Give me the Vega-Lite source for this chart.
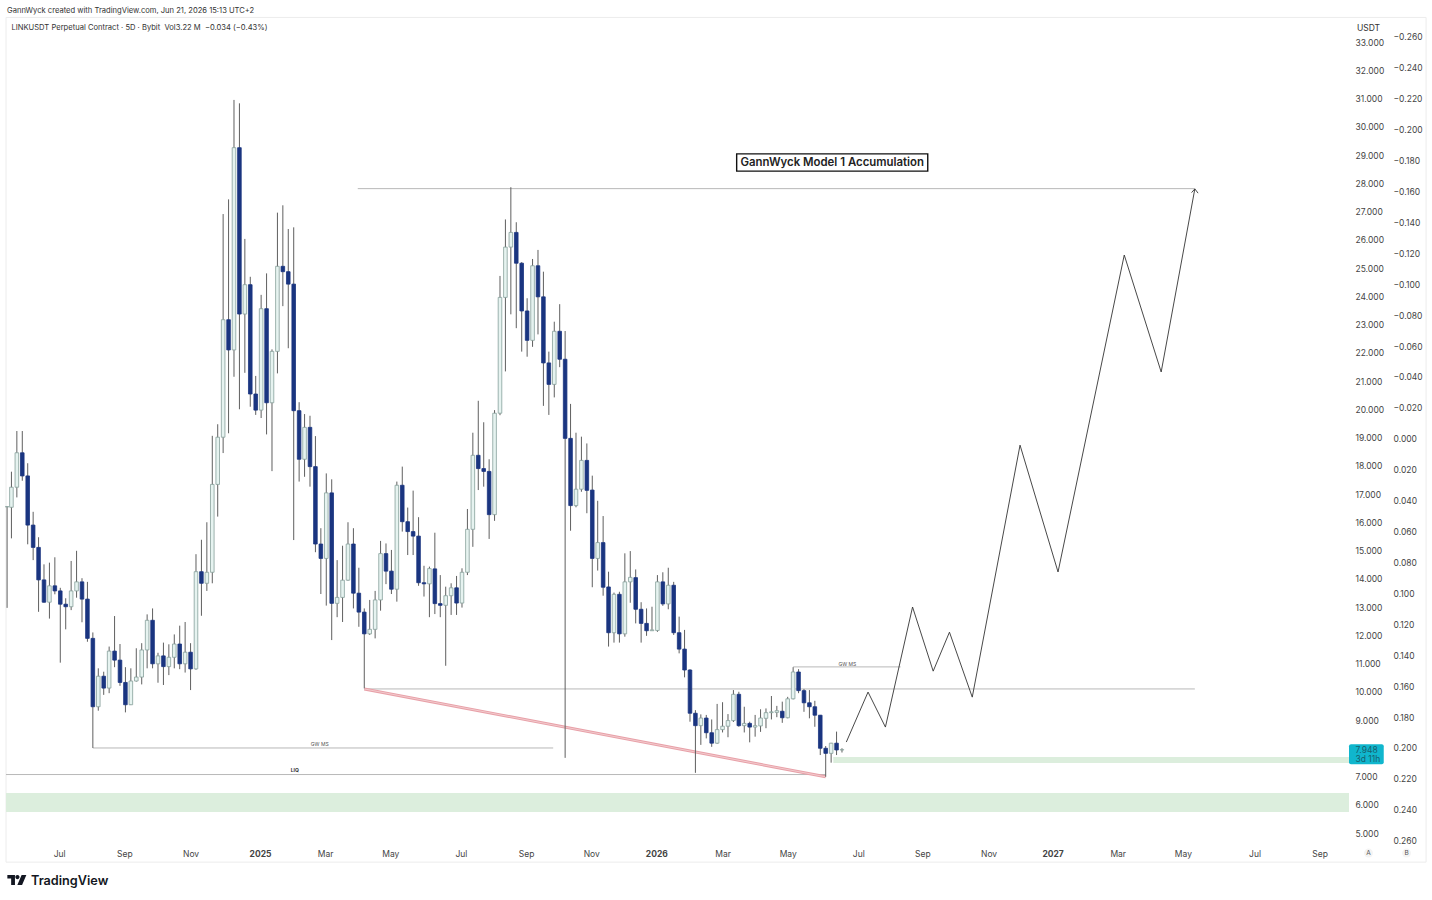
{"$schema":"https://vega.github.io/schema/vega-lite/v6.json","width":1343,"height":844,"autosize":{"type":"none"},"padding":{"left":6,"top":18,"right":83,"bottom":38},"background":"white","config":{"font":"Inter","view":{"stroke":null},"text":{"font":"Inter"},"axis":{"labelOverlap":false}},
"datasets":{"candles":[
{"d":"2024-05-13","o":16.55,"h":16.55,"l":12.97,"c":16.55},
{"d":"2024-05-17","o":16.53,"h":17.79,"l":15.43,"c":17.24},
{"d":"2024-05-22","o":17.24,"h":19.23,"l":16.88,"c":18.46},
{"d":"2024-05-27","o":18.46,"h":19.23,"l":17.47,"c":17.64},
{"d":"2024-06-01","o":17.64,"h":18.09,"l":15.22,"c":15.9},
{"d":"2024-06-06","o":15.9,"h":16.37,"l":14.66,"c":15.11},
{"d":"2024-06-11","o":15.11,"h":15.47,"l":12.83,"c":13.96},
{"d":"2024-06-16","o":13.96,"h":14.51,"l":13.15,"c":13.17},
{"d":"2024-06-21","o":13.17,"h":14.57,"l":12.59,"c":13.75},
{"d":"2024-06-26","o":13.75,"h":14.76,"l":13.45,"c":13.57},
{"d":"2024-07-01","o":13.57,"h":13.68,"l":11.03,"c":13.1},
{"d":"2024-07-06","o":13.1,"h":13.31,"l":12.21,"c":13.01},
{"d":"2024-07-11","o":13.01,"h":14.63,"l":12.89,"c":13.57},
{"d":"2024-07-16","o":13.57,"h":14.99,"l":13.33,"c":13.89},
{"d":"2024-07-21","o":13.89,"h":14.02,"l":12.46,"c":13.28},
{"d":"2024-07-26","o":13.28,"h":13.89,"l":11.77,"c":11.89},
{"d":"2024-07-31","o":11.89,"h":12.1,"l":8.01,"c":9.47},
{"d":"2024-08-05","o":9.47,"h":10.83,"l":9.33,"c":10.55},
{"d":"2024-08-10","o":10.55,"h":10.71,"l":9.89,"c":10.13},
{"d":"2024-08-15","o":10.13,"h":11.6,"l":9.95,"c":11.44},
{"d":"2024-08-20","o":11.44,"h":12.68,"l":10.87,"c":11.12},
{"d":"2024-08-25","o":11.12,"h":11.69,"l":10.21,"c":10.33},
{"d":"2024-08-30","o":10.33,"h":10.87,"l":9.27,"c":9.54},
{"d":"2024-09-04","o":9.54,"h":10.83,"l":9.53,"c":10.38},
{"d":"2024-09-09","o":10.38,"h":11.54,"l":10.36,"c":10.52},
{"d":"2024-09-14","o":10.52,"h":11.72,"l":10.26,"c":11.48},
{"d":"2024-09-19","o":11.48,"h":12.74,"l":10.83,"c":12.53},
{"d":"2024-09-24","o":12.53,"h":12.95,"l":10.83,"c":10.99},
{"d":"2024-09-29","o":10.99,"h":11.38,"l":10.32,"c":11.27},
{"d":"2024-10-04","o":11.27,"h":11.74,"l":10.24,"c":10.89},
{"d":"2024-10-09","o":10.89,"h":11.68,"l":10.59,"c":11.22},
{"d":"2024-10-14","o":11.22,"h":12.03,"l":10.83,"c":11.69},
{"d":"2024-10-19","o":11.69,"h":12.34,"l":10.8,"c":10.99},
{"d":"2024-10-24","o":10.99,"h":12.47,"l":10.68,"c":11.4},
{"d":"2024-10-29","o":11.4,"h":11.72,"l":10.06,"c":10.81},
{"d":"2024-11-03","o":10.81,"h":14.87,"l":10.78,"c":14.25},
{"d":"2024-11-08","o":14.25,"h":15.38,"l":12.69,"c":13.84},
{"d":"2024-11-13","o":13.84,"h":16.0,"l":13.57,"c":14.23},
{"d":"2024-11-18","o":14.23,"h":19.06,"l":13.84,"c":17.34},
{"d":"2024-11-23","o":17.34,"h":19.47,"l":16.2,"c":19.01},
{"d":"2024-11-28","o":19.01,"h":26.91,"l":18.45,"c":23.17},
{"d":"2024-12-03","o":23.17,"h":27.43,"l":19.15,"c":22.1},
{"d":"2024-12-08","o":22.1,"h":30.95,"l":21.15,"c":29.26},
{"d":"2024-12-13","o":29.26,"h":30.83,"l":20.0,"c":23.37},
{"d":"2024-12-18","o":23.37,"h":26.03,"l":21.29,"c":24.41},
{"d":"2024-12-23","o":24.41,"h":24.69,"l":20.09,"c":20.54},
{"d":"2024-12-28","o":20.54,"h":21.18,"l":19.8,"c":19.97},
{"d":"2025-01-02","o":19.97,"h":24.05,"l":19.69,"c":23.56},
{"d":"2025-01-07","o":23.56,"h":24.81,"l":19.11,"c":20.23},
{"d":"2025-01-12","o":20.23,"h":22.12,"l":17.81,"c":22.05},
{"d":"2025-01-17","o":22.05,"h":26.96,"l":21.27,"c":25.06},
{"d":"2025-01-22","o":25.06,"h":27.22,"l":23.65,"c":24.87},
{"d":"2025-01-27","o":24.87,"h":26.38,"l":22.16,"c":24.43},
{"d":"2025-02-01","o":24.43,"h":26.44,"l":15.37,"c":19.95},
{"d":"2025-02-06","o":19.95,"h":20.25,"l":17.44,"c":18.23},
{"d":"2025-02-11","o":18.23,"h":19.83,"l":17.61,"c":19.36},
{"d":"2025-02-16","o":19.36,"h":19.77,"l":17.26,"c":17.97},
{"d":"2025-02-21","o":17.97,"h":19.05,"l":14.94,"c":15.23},
{"d":"2025-02-26","o":15.23,"h":15.79,"l":13.46,"c":14.72},
{"d":"2025-03-03","o":14.72,"h":17.73,"l":13.05,"c":17.04},
{"d":"2025-03-08","o":17.04,"h":17.52,"l":11.83,"c":13.13},
{"d":"2025-03-13","o":13.13,"h":14.66,"l":12.64,"c":13.34},
{"d":"2025-03-18","o":13.34,"h":15.17,"l":12.47,"c":13.95},
{"d":"2025-03-23","o":13.95,"h":16.0,"l":13.93,"c":15.23},
{"d":"2025-03-28","o":15.23,"h":15.79,"l":12.95,"c":13.49},
{"d":"2025-04-02","o":13.49,"h":14.39,"l":12.3,"c":12.82},
{"d":"2025-04-07","o":12.82,"h":12.95,"l":10.12,"c":12.05},
{"d":"2025-04-12","o":12.05,"h":13.25,"l":12.01,"c":12.21},
{"d":"2025-04-17","o":12.21,"h":13.57,"l":11.89,"c":13.25},
{"d":"2025-04-22","o":13.25,"h":15.34,"l":12.87,"c":14.89},
{"d":"2025-04-27","o":14.89,"h":15.25,"l":13.81,"c":14.27},
{"d":"2025-05-02","o":14.27,"h":15.02,"l":13.46,"c":13.63},
{"d":"2025-05-07","o":13.63,"h":17.44,"l":13.19,"c":17.31},
{"d":"2025-05-12","o":17.31,"h":17.97,"l":15.67,"c":16.02},
{"d":"2025-05-17","o":16.02,"h":16.52,"l":14.84,"c":15.67},
{"d":"2025-05-22","o":15.67,"h":17.12,"l":14.84,"c":15.51},
{"d":"2025-05-27","o":15.51,"h":16.18,"l":13.75,"c":13.86},
{"d":"2025-06-01","o":13.86,"h":14.46,"l":13.37,"c":13.82},
{"d":"2025-06-06","o":13.82,"h":14.43,"l":12.64,"c":14.36},
{"d":"2025-06-11","o":14.35,"h":15.63,"l":12.75,"c":13.12},
{"d":"2025-06-16","o":13.12,"h":14.13,"l":12.64,"c":13.06},
{"d":"2025-06-21","o":13.06,"h":13.72,"l":10.92,"c":13.4},
{"d":"2025-06-26","o":13.4,"h":13.84,"l":12.72,"c":13.68},
{"d":"2025-07-01","o":13.68,"h":14.1,"l":12.72,"c":13.14},
{"d":"2025-07-06","o":13.14,"h":14.37,"l":12.98,"c":14.23},
{"d":"2025-07-11","o":14.23,"h":16.47,"l":14.13,"c":15.75},
{"d":"2025-07-16","o":15.75,"h":19.17,"l":15.13,"c":18.37},
{"d":"2025-07-21","o":18.37,"h":20.3,"l":17.14,"c":17.9},
{"d":"2025-07-26","o":17.9,"h":19.54,"l":17.26,"c":17.8},
{"d":"2025-07-31","o":17.8,"h":18.23,"l":15.41,"c":16.27},
{"d":"2025-08-05","o":16.27,"h":19.97,"l":16.05,"c":19.86},
{"d":"2025-08-10","o":19.86,"h":24.72,"l":19.79,"c":23.96},
{"d":"2025-08-15","o":23.96,"h":26.72,"l":21.34,"c":25.74},
{"d":"2025-08-20","o":25.74,"h":27.86,"l":23.36,"c":26.26},
{"d":"2025-08-25","o":26.26,"h":26.62,"l":22.87,"c":25.17},
{"d":"2025-08-30","o":25.17,"h":25.21,"l":22.04,"c":23.48},
{"d":"2025-09-04","o":23.48,"h":23.93,"l":21.86,"c":22.44},
{"d":"2025-09-09","o":22.44,"h":25.32,"l":22.21,"c":25.08},
{"d":"2025-09-14","o":25.08,"h":25.64,"l":22.65,"c":23.98},
{"d":"2025-09-19","o":23.98,"h":24.87,"l":20.12,"c":21.64},
{"d":"2025-09-24","o":21.64,"h":22.04,"l":19.8,"c":20.88},
{"d":"2025-09-29","o":20.88,"h":23.1,"l":20.42,"c":22.76},
{"d":"2025-10-04","o":22.76,"h":23.72,"l":21.49,"c":21.77},
{"d":"2025-10-09","o":21.77,"h":22.77,"l":7.66,"c":18.97},
{"d":"2025-10-14","o":18.97,"h":20.19,"l":15.7,"c":16.59},
{"d":"2025-10-19","o":16.59,"h":19.17,"l":16.53,"c":17.17},
{"d":"2025-10-24","o":17.17,"h":19.03,"l":17.08,"c":18.19},
{"d":"2025-10-29","o":18.19,"h":18.79,"l":16.32,"c":17.13},
{"d":"2025-11-03","o":17.14,"h":17.65,"l":13.7,"c":14.72},
{"d":"2025-11-08","o":14.72,"h":16.76,"l":14.29,"c":15.28},
{"d":"2025-11-13","o":15.28,"h":16.22,"l":13.4,"c":13.7},
{"d":"2025-11-18","o":13.71,"h":14.25,"l":11.6,"c":12.09},
{"d":"2025-11-23","o":12.09,"h":13.51,"l":11.74,"c":13.45},
{"d":"2025-11-28","o":13.45,"h":13.54,"l":11.74,"c":12.05},
{"d":"2025-12-03","o":12.05,"h":14.9,"l":11.95,"c":13.89},
{"d":"2025-12-08","o":13.89,"h":14.98,"l":13.15,"c":14.05},
{"d":"2025-12-13","o":14.04,"h":14.33,"l":12.42,"c":12.92},
{"d":"2025-12-18","o":12.92,"h":13.17,"l":11.74,"c":12.42},
{"d":"2025-12-23","o":12.42,"h":12.95,"l":11.98,"c":12.16},
{"d":"2025-12-28","o":12.16,"h":13.01,"l":12.16,"c":12.19},
{"d":"2026-01-02","o":12.17,"h":14.13,"l":12.12,"c":13.89},
{"d":"2026-01-07","o":13.89,"h":14.23,"l":13.04,"c":13.11},
{"d":"2026-01-12","o":13.11,"h":14.39,"l":12.92,"c":13.77},
{"d":"2026-01-17","o":13.77,"h":13.89,"l":12.01,"c":12.09},
{"d":"2026-01-22","o":12.09,"h":12.66,"l":11.36,"c":11.51},
{"d":"2026-01-27","o":11.51,"h":12.19,"l":10.51,"c":10.77},
{"d":"2026-02-01","o":10.77,"h":10.8,"l":8.94,"c":9.24},
{"d":"2026-02-06","o":9.24,"h":9.35,"l":7.13,"c":8.8},
{"d":"2026-02-11","o":8.8,"h":9.2,"l":8.12,"c":9.07},
{"d":"2026-02-16","o":9.07,"h":9.18,"l":8.35,"c":8.55},
{"d":"2026-02-21","o":8.55,"h":9.02,"l":8.05,"c":8.18},
{"d":"2026-02-26","o":8.18,"h":9.57,"l":8.16,"c":8.66},
{"d":"2026-03-03","o":8.66,"h":9.63,"l":8.56,"c":8.78},
{"d":"2026-03-08","o":8.78,"h":9.21,"l":8.39,"c":8.98},
{"d":"2026-03-13","o":8.98,"h":10.06,"l":8.93,"c":9.91},
{"d":"2026-03-18","o":9.91,"h":10.0,"l":8.76,"c":8.8},
{"d":"2026-03-23","o":8.8,"h":9.47,"l":8.56,"c":8.88},
{"d":"2026-03-28","o":8.88,"h":8.94,"l":8.21,"c":8.75},
{"d":"2026-04-02","o":8.75,"h":9.18,"l":8.41,"c":8.8},
{"d":"2026-04-07","o":8.79,"h":9.38,"l":8.58,"c":9.07},
{"d":"2026-04-12","o":9.06,"h":9.41,"l":8.71,"c":9.26},
{"d":"2026-04-17","o":9.26,"h":9.85,"l":9.02,"c":9.29},
{"d":"2026-04-22","o":9.27,"h":9.5,"l":9.1,"c":9.33},
{"d":"2026-04-27","o":9.31,"h":9.65,"l":8.9,"c":9.08},
{"d":"2026-05-02","o":9.08,"h":9.82,"l":9.06,"c":9.75},
{"d":"2026-05-07","o":9.75,"h":10.87,"l":9.73,"c":10.7},
{"d":"2026-05-12","o":10.7,"h":10.8,"l":9.95,"c":10.04},
{"d":"2026-05-17","o":10.04,"h":10.1,"l":9.29,"c":9.61},
{"d":"2026-05-22","o":9.61,"h":10.06,"l":9.06,"c":9.47},
{"d":"2026-05-27","o":9.47,"h":9.68,"l":8.76,"c":9.17},
{"d":"2026-06-01","o":9.17,"h":9.18,"l":7.76,"c":8.0},
{"d":"2026-06-06","o":8.0,"h":8.08,"l":6.99,"c":7.82},
{"d":"2026-06-11","o":7.82,"h":8.19,"l":7.49,"c":8.18},
{"d":"2026-06-16","o":8.18,"h":8.59,"l":7.76,"c":7.94},
{"d":"2026-06-21","o":7.94,"h":8.0,"l":7.85,"c":7.95}
]},
"layer":[
{"layer":[
{"data":{"values":[{"d":"2024-05-12","d2":"2027-12-11","p":33.87,"p2":3.97}],"format":{"parse":{"d":"date","d2":"date"}}},"mark":{"type":"rect","fillOpacity":0,"fill":"white","stroke":"#ececec","strokeWidth":1},"encoding":{"x":{"field":"d","type":"temporal","title":null,"scale":{"type":"utc","padding":0,"domain":[{"year":2024,"month":5,"date":12,"utc":true},{"year":2027,"month":10,"date":1,"utc":true}]},"axis":{"orient":"bottom","title":null,"domain":false,"ticks":false,"grid":false,"offset":-9,"labelPadding":0,"labelBaseline":"middle","labelFontSize":8.5,"labelColor":"#444444","labelFontWeight":{"condition":{"test":"utcmonth(datum.value+604800000)==0","value":"bold"},"value":"normal"},"labelExpr":"utcmonth(datum.value+604800000)==0 ? utcFormat(datum.value+604800000,'%Y') : utcFormat(datum.value+604800000,'%b')","values":[{"year":2024,"month":6,"date":30,"utc":true},{"year":2024,"month":8,"date":29,"utc":true},{"year":2024,"month":10,"date":29,"utc":true},{"year":2025,"month":1,"date":1,"utc":true},{"year":2025,"month":3,"date":2,"utc":true},{"year":2025,"month":5,"date":1,"utc":true},{"year":2025,"month":7,"date":5,"utc":true},{"year":2025,"month":9,"date":3,"utc":true},{"year":2025,"month":11,"date":2,"utc":true},{"year":2026,"month":1,"date":1,"utc":true},{"year":2026,"month":3,"date":3,"utc":true},{"year":2026,"month":5,"date":2,"utc":true},{"year":2026,"month":7,"date":6,"utc":true},{"year":2026,"month":9,"date":3,"utc":true},{"year":2026,"month":11,"date":3,"utc":true},{"year":2027,"month":1,"date":1,"utc":true},{"year":2027,"month":3,"date":2,"utc":true},{"year":2027,"month":5,"date":1,"utc":true},{"year":2027,"month":7,"date":6,"utc":true},{"year":2027,"month":9,"date":4,"utc":true}]}},"x2":{"field":"d2"},"y":{"field":"p","type":"quantitative","axis":null,"scale":{"domain":[3.974,33.85],"nice":false,"zero":false}},"y2":{"field":"p2"}}},
{"data":{"values":[{"d":"2024-05-12","d2":"2027-10-01","p":6.42,"p2":5.74},{"d":"2026-06-13","d2":"2027-10-01","p":7.69,"p2":7.48}],"format":{"parse":{"d":"date","d2":"date"}}},"mark":{"type":"rect","fill":"#dceedd"},"encoding":{"x":{"field":"d","type":"temporal","title":null},"x2":{"field":"d2"},"y":{"field":"p","type":"quantitative","axis":null},"y2":{"field":"p2"}}},
{"data":{"values":[{"d":"2025-04-01","d2":"2027-05-12","p":27.81},{"d":"2025-04-07","d2":"2027-05-12","p":10.1},{"d":"2024-07-31","d2":"2025-09-28","p":8.01},{"d":"2024-05-12","d2":"2026-06-06","p":7.07},{"d":"2026-05-07","d2":"2026-08-14","p":10.88}],"format":{"parse":{"d":"date","d2":"date"}}},"mark":{"type":"rule","color":"#b8b8b8","strokeWidth":1},"encoding":{"x":{"field":"d","type":"temporal","title":null},"x2":{"field":"d2"},"y":{"field":"p","type":"quantitative","axis":null}}},
{"data":{"values":[{"d":"2025-04-07","p":10.1},{"d":"2026-06-06","p":6.99}],"format":{"parse":{"d":"date"}}},"mark":{"type":"line","color":"#e8a0a8","strokeWidth":3},"encoding":{"x":{"field":"d","type":"temporal","title":null},"y":{"field":"p","type":"quantitative","axis":null}}},
{"data":{"values":[{"d":"2025-04-07","p":10.1},{"d":"2026-06-06","p":6.99}],"format":{"parse":{"d":"date"}}},"mark":{"type":"line","color":"#f7dcdc","strokeWidth":0.7},"encoding":{"x":{"field":"d","type":"temporal","title":null},"y":{"field":"p","type":"quantitative","axis":null}}},
{"data":{"name":"candles","format":{"parse":{"d":"date"}}},"mark":{"type":"rule","color":"#5f5f5f","strokeWidth":1},"encoding":{"x":{"field":"d","type":"temporal","title":null},"y":{"field":"h","type":"quantitative","axis":null},"y2":{"field":"l"}}},
{"data":{"name":"candles","format":{"parse":{"d":"date"}}},"mark":{"type":"bar","size":3.6,"strokeWidth":0.8},"encoding":{"x":{"field":"d","type":"temporal","title":null},"y":{"field":"o","type":"quantitative","axis":null},"y2":{"field":"c"},"fill":{"condition":{"test":"datum.c>=datum.o","value":"#e6f3f0"},"value":"#1a3580"},"stroke":{"condition":{"test":"datum.c>=datum.o","value":"#86a09a"},"value":"#1a3580"}}},
{"data":{"values":[{"d":"2026-06-25","p":8.22},{"d":"2026-07-15","p":9.99},{"d":"2026-07-31","p":8.75},{"d":"2026-08-25","p":13.0},{"d":"2026-09-13","p":10.73},{"d":"2026-09-28","p":12.11},{"d":"2026-10-19","p":9.81},{"d":"2026-12-02","p":18.73},{"d":"2027-01-06","p":14.24},{"d":"2027-03-08","p":25.46},{"d":"2027-04-11","p":21.32},{"d":"2027-05-12","p":27.8}],"format":{"parse":{"d":"date"}}},"mark":{"type":"line","color":"#333333","strokeWidth":0.9},"encoding":{"x":{"field":"d","type":"temporal","title":null},"y":{"field":"p","type":"quantitative","axis":null}}},
{"data":{"values":[{"d":"2027-05-09","p":27.67},{"d":"2027-05-12","p":27.8},{"d":"2027-05-15","p":27.65}],"format":{"parse":{"d":"date"}}},"mark":{"type":"line","color":"#333333","strokeWidth":0.9},"encoding":{"x":{"field":"d","type":"temporal","title":null},"y":{"field":"p","type":"quantitative","axis":null}}},
{"data":{"values":[{"d":"2026-03-16","d2":"2026-09-08","p":29.04,"p2":28.43}],"format":{"parse":{"d":"date","d2":"date"}}},"mark":{"type":"rect","fill":"white","stroke":"#111111","strokeWidth":1.4},"encoding":{"x":{"field":"d","type":"temporal","title":null},"x2":{"field":"d2"},"y":{"field":"p","type":"quantitative","axis":null},"y2":{"field":"p2"}}},
{"data":{"values":[{"d":"2026-06-12","p":28.7,"t":"GannWyck Model 1 Accumulation"}],"format":{"parse":{"d":"date"}}},"mark":{"type":"text","fontSize":11.4,"fontWeight":600,"color":"#222222","align":"center","baseline":"middle"},"encoding":{"x":{"field":"d","type":"temporal","title":null},"y":{"field":"p","type":"quantitative","axis":null},"text":{"field":"t"}}},
{"data":{"values":[{"d":"2025-02-25","p":8.15,"t":"GW MS"},{"d":"2026-06-26","p":11.0,"t":"GW MS"}],"format":{"parse":{"d":"date"}}},"mark":{"type":"text","fontSize":5,"color":"#555555","align":"center","baseline":"middle"},"encoding":{"x":{"field":"d","type":"temporal","title":null},"y":{"field":"p","type":"quantitative","axis":null},"text":{"field":"t"}}},
{"data":{"values":[{"d":"2025-02-02","p":7.23,"t":"LIQ"}],"format":{"parse":{"d":"date"}}},"mark":{"type":"text","fontSize":5,"fontWeight":"bold","color":"#333333","align":"center","baseline":"middle"},"encoding":{"x":{"field":"d","type":"temporal","title":null},"y":{"field":"p","type":"quantitative","axis":null},"text":{"field":"t"}}},
{"data":{"values":[{"d":"2024-05-13","p":34.1,"t":"GannWyck created with TradingView.com, Jun 21, 2026 15:13 UTC+2"},{"d":"2024-05-17","p":33.5,"t":"LINKUSDT Perpetual Contract · 5D · Bybit \u00a0Vol3.22 M \u00a0−0.034 (−0.43%)"}],"format":{"parse":{"d":"date"}}},"mark":{"type":"text","fontSize":7.6,"color":"#333333","align":"left","baseline":"middle"},"encoding":{"x":{"field":"d","type":"temporal","title":null},"y":{"field":"p","type":"quantitative","axis":null},"text":{"field":"t"}}},
{"data":{"values":[{"d":"2027-10-01","d2":"2027-11-02","p":8.14,"p2":7.43}],"format":{"parse":{"d":"date","d2":"date"}}},"mark":{"type":"rect","fill":"#10b6cd","cornerRadius":2},"encoding":{"x":{"field":"d","type":"temporal","title":null},"x2":{"field":"d2"},"y":{"field":"p","type":"quantitative","axis":null},"y2":{"field":"p2"}}},
{"data":{"values":[{"d":"2027-10-07","p":7.94,"t":"7.948"},{"d":"2027-10-07","p":7.62,"t":"3d 11h"}],"format":{"parse":{"d":"date"}}},"mark":{"type":"text","fontSize":8.5,"color":"#17606e","align":"left","baseline":"middle"},"encoding":{"x":{"field":"d","type":"temporal","title":null},"y":{"field":"p","type":"quantitative","axis":null},"text":{"field":"t"}}},
{"data":{"values":[{"d":"2027-10-19","p":33.5,"t":"USDT"}],"format":{"parse":{"d":"date"}}},"mark":{"type":"text","fontSize":8.5,"color":"#333333","align":"center","baseline":"middle"},"encoding":{"x":{"field":"d","type":"temporal","title":null},"y":{"field":"p","type":"quantitative","axis":null},"text":{"field":"t"}}},
{"data":{"values":[{"d":"2027-10-19","p":4.29},{"d":"2027-11-23","p":4.29}],"format":{"parse":{"d":"date"}}},"mark":{"type":"point","filled":true,"size":80,"color":"#f4f4f4","opacity":1},"encoding":{"x":{"field":"d","type":"temporal","title":null},"y":{"field":"p","type":"quantitative","axis":null}}},
{"data":{"values":[{"d":"2027-10-19","p":4.29,"t":"A"},{"d":"2027-11-23","p":4.29,"t":"B"}],"format":{"parse":{"d":"date"}}},"mark":{"type":"text","fontSize":6.5,"color":"#555555","align":"center","baseline":"middle"},"encoding":{"x":{"field":"d","type":"temporal","title":null},"y":{"field":"p","type":"quantitative","axis":null},"text":{"field":"t"}}},
{"data":{"values":[{"d":"2024-05-22","p":3.34}],"format":{"parse":{"d":"date"}}},"mark":{"type":"point","filled":true,"size":361,"color":"#131722","opacity":1,"strokeWidth":0,"shape":"M-1,-0.53 L-0.2,-0.53 L-0.2,0.53 L-0.6,0.53 L-0.6,-0.15 L-1,-0.15 Z M-0.16,-0.3 A0.22,0.22 0 1 1 0.28,-0.3 A0.22,0.22 0 1 1 -0.16,-0.3 Z M0.5,-0.53 L1,-0.53 L0.55,0.53 L0.05,0.53 Z"},"encoding":{"x":{"field":"d","type":"temporal","title":null},"y":{"field":"p","type":"quantitative","axis":null}}},
{"data":{"values":[{"d":"2024-06-04","p":3.3,"t":"TradingView"}],"format":{"parse":{"d":"date"}}},"mark":{"type":"text","fontSize":12.7,"fontWeight":600,"color":"#131722","align":"left","baseline":"middle"},"encoding":{"x":{"field":"d","type":"temporal","title":null},"y":{"field":"p","type":"quantitative","axis":null},"text":{"field":"t"}}}
]},
{"data":{"values":[{"a":7.948}]},"mark":{"type":"point","opacity":0},"encoding":{"y":{"field":"a","type":"quantitative","title":null,"scale":{"domain":[3.974,33.85],"nice":false,"zero":false},"axis":{"orient":"right","title":null,"domain":false,"ticks":false,"grid":false,"labelPadding":6,"labelFontSize":8.5,"labelColor":"#444444","format":".3f","labelOverlap":false,"values":[5,6,7,9,10,11,12,13,14,15,16,17,18,19,20,21,22,23,24,25,26,27,28,29,30,31,32,33]}}}},
{"data":{"values":[{"b":0}]},"mark":{"type":"point","opacity":0},"encoding":{"y":{"field":"b","type":"quantitative","title":null,"scale":{"domain":[-0.2722,0.2738],"reverse":true,"nice":false,"zero":false},"axis":{"orient":"right","title":null,"offset":44,"domain":false,"ticks":false,"grid":false,"labelPadding":0,"labelFontSize":8.5,"labelColor":"#444444","format":".3f","labelOverlap":false,"values":[-0.26,-0.24,-0.22,-0.2,-0.18,-0.16,-0.14,-0.12,-0.1,-0.08,-0.06,-0.04,-0.02,0,0.02,0.04,0.06,0.08,0.1,0.12,0.14,0.16,0.18,0.2,0.22,0.24,0.26]}}}}
],"resolve":{"scale":{"y":"independent"},"axis":{"y":"independent"}}}
